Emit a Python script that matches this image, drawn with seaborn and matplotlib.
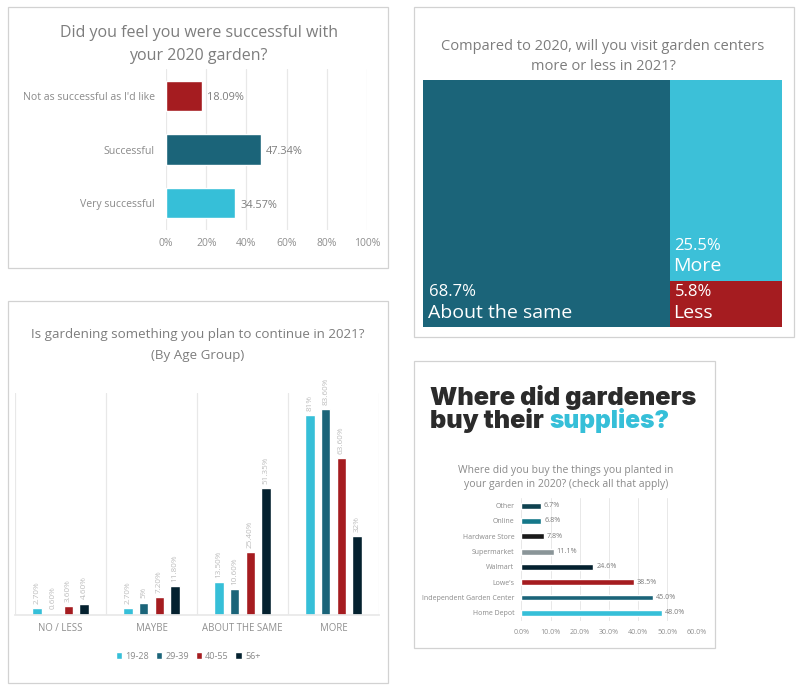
import matplotlib
matplotlib.use("Agg")
import matplotlib.pyplot as plt
from matplotlib.patches import Rectangle
from matplotlib.ticker import FuncFormatter
import pandas as pd
import seaborn as sns

CYAN, TEAL, RED, NAVY = "#36BFD8", "#1B6479", "#A51C20", "#04212F"
GREY, LIGHT, GRID, FRAME = "#7d7d7d", "#bdbdbd", "#e8e8e8", "#d2d2d2"

# Panel 1
success_cats = ["Not as successful as I'd like", "Successful", "Very successful"]
success_vals = [18.09, 47.34, 34.57]
success_cols = [RED, TEAL, CYAN]

# Panel 2
age_cats = ["NO / LESS", "MAYBE", "ABOUT THE SAME", "MORE"]
age_groups = ["19-28", "29-39", "40-55", "56+"]
age_19_28 = [2.7, 2.7, 13.5, 81]
age_29_39 = [0.6, 5, 10.6, 83.6]
age_40_55 = [3.6, 7.2, 25.4, 63.6]
age_56 = [4.6, 11.8, 51.35, 32]
age_labels = [["2.70%", "2.70%", "13.50%", "81%"],
              ["0.60%", "5%", "10.60%", "83.60%"],
              ["3.60%", "7.20%", "25.40%", "63.60%"],
              ["4.60%", "11.80%", "51.35%", "32%"]]
age_cols = [CYAN, TEAL, RED, NAVY]

# Panel 3 (treemap)
visit_names = ["About the same", "More", "Less"]
visit_vals = [68.7, 25.5, 5.8]
visit_cols = [TEAL, "#3CC0D8", "#A51C20"]

# Panel 4
store_cats = ["Other", "Online", "Hardware Store", "Supermarket", "Walmart",
              "Lowe's", "Independent Garden Center", "Home Depot"]
store_vals = [6.7, 6.8, 7.8, 11.1, 24.6, 38.5, 45.0, 48.0]
store_cols = ["#0F4250", "#15788A", "#1A1A1A", "#8A9598", NAVY, RED, TEAL, CYAN]

sns.set_theme(style="white")
plt.rcParams["font.family"] = ["Open Sans", "DejaVu Sans"]

W, H = 800, 689
fig = plt.figure(figsize=(W / 100, H / 100), dpi=100, facecolor="white")


def px_axes(x0, y0, x1, y1):
    return fig.add_axes([x0 / W, 1 - y1 / H, (x1 - x0) / W, (y1 - y0) / H])


def px_text(x, y, s, **kw):
    kw.setdefault("ha", "center")
    kw.setdefault("va", "center")
    kw.setdefault("color", GREY)
    return fig.text(x / W, 1 - y / H, s, **kw)


def frame(x0, y0, x1, y1):
    fig.add_artist(Rectangle((x0 / W, 1 - y1 / H), (x1 - x0) / W, (y1 - y0) / H,
                             transform=fig.transFigure, fill=False,
                             edgecolor=FRAME, linewidth=0.9))


frame(8, 7, 388, 268)
frame(8, 301, 388, 683)
frame(414, 7, 794, 337)
frame(414.5, 361, 714.5, 648)

# ---- Panel 1
px_text(198.5, 33, "Did you feel you were successful with", fontsize=11.5)
px_text(198.5, 56, "your 2020 garden?", fontsize=11.5)
ax = px_axes(166, 69, 367, 230)
df = pd.DataFrame({"cat": success_cats, "val": success_vals})
sns.barplot(df, y="cat", x="val", hue="cat", palette=success_cols, legend=False,
            width=0.57, saturation=1, ax=ax)
ax.set(xlim=(0, 100), xlabel="", ylabel="")
ax.set_xticks(range(0, 101, 20))
ax.xaxis.set_major_formatter(FuncFormatter(lambda v, _: f"{v:.0f}%"))
ax.grid(axis="x", color=GRID, lw=0.9)
ax.set_axisbelow(True)
sns.despine(ax=ax, left=True, bottom=True, top=True, right=True)
ax.tick_params(axis="x", length=0, labelsize=7.5, labelcolor="#8f8f8f", pad=6)
ax.tick_params(axis="y", length=0, labelsize=7.6, labelcolor="#8a8a8a", pad=8)
for i, v in enumerate(success_vals):
    ax.annotate(f"{v:.2f}%", (v, i), xytext=(5, -2), textcoords="offset pixels",
                ha="left", va="center", fontsize=7.9, color=GREY)

# ---- Panel 2
px_text(198, 334.5, "Is gardening something you plan to continue in 2021?", fontsize=9.6)
px_text(198, 355.5, "(By Age Group)", fontsize=9.6)
ax = px_axes(15, 393, 379, 615)
long = pd.DataFrame({
    "cat": age_cats * 4,
    "group": [g for g in age_groups for _ in age_cats],
    "val": age_19_28 + age_29_39 + age_40_55 + age_56,
})
sns.barplot(long, x="cat", y="val", hue="group", order=age_cats, hue_order=age_groups,
            palette=age_cols, width=0.688, gap=0.4, saturation=1, ax=ax)
ax.set(xlim=(-0.5, 3.5), ylim=(0, 90), xlabel="", ylabel="", yticks=[])
for sep in [-0.5, 0.5, 1.5, 2.5, 3.5]:
    ax.axvline(sep, color=GRID, lw=0.9, zorder=0)
sns.despine(ax=ax, left=True, top=True, right=True)
ax.spines["bottom"].set_color(GRID)
ax.tick_params(axis="x", length=0, labelsize=6.9, labelcolor="#8f8f8f", pad=5.5)
for cont, labs in zip(ax.containers, age_labels):
    ax.bar_label(cont, labels=labs, rotation=90, padding=3, fontsize=5.9, color=LIGHT)
leg = ax.legend(loc="center", bbox_to_anchor=(173 / 364, -0.185), ncol=4, frameon=False,
                fontsize=6.5, handlelength=0.7, handleheight=0.7, handletextpad=0.35,
                columnspacing=0.75, labelcolor="#8a8a8a", borderpad=0)

# ---- Panel 3: treemap
px_text(603, 46, "Compared to 2020, will you visit garden centers", fontsize=10.5)
px_text(603, 66, "more or less in 2021?", fontsize=10.5)
ax = px_axes(423.3, 80, 782, 327)
left_w = visit_vals[0]
right_w = visit_vals[1] + visit_vals[2]
ax.bar(0, right_w, width=left_w, align="edge", color=visit_cols[0], linewidth=0)
ax.bar(left_w, visit_vals[2], width=right_w, align="edge", color=visit_cols[2], linewidth=0)
ax.bar(left_w, visit_vals[1], width=right_w, bottom=visit_vals[2], align="edge",
       color=visit_cols[1], linewidth=0)
ax.set(xlim=(0, left_w + right_w), ylim=(0, right_w), xticks=[], yticks=[])
sns.despine(ax=ax, left=True, bottom=True, top=True, right=True)
for name, val, x, ytop, yname in [
    (visit_names[0], visit_vals[0], 427.5, 292.5, 312.5),
    (visit_names[1], visit_vals[1], 673.5, 245.5, 266),
    (visit_names[2], visit_vals[2], 673.5, 292.5, 312.5),
]:
    px_text(x + 1, ytop, f"{val}%", ha="left", color="white", fontsize=12)
    px_text(x, yname, name, ha="left", color="white", fontsize=14)

# ---- Panel 4
px_text(430, 397, "Where did gardeners", ha="left", color="#2b2b2b", fontsize=18.2,
        fontweight="black", family="Inter")
px_text(430, 420.5, "buy their", ha="left", color="#2b2b2b", fontsize=18.2,
        fontweight="black", family="Inter")
px_text(549, 420.5, "supplies?", ha="left", color=CYAN, fontsize=17.6,
        fontweight="black", family="Inter")
px_text(566, 470.5, "Where did you buy the things you planted in", fontsize=7.45, color="#8a8a8a")
px_text(566, 485, "your garden in 2020? (check all that apply)", fontsize=7.45, color="#8a8a8a")
ax = px_axes(521.3, 498, 696.7, 620.5)
df = pd.DataFrame({"cat": store_cats, "val": store_vals})
sns.barplot(df, y="cat", x="val", hue="cat", palette=store_cols, legend=False,
            width=0.38, saturation=1, ax=ax)
ax.set(xlim=(0, 60), xlabel="", ylabel="")
ax.set_xticks(range(0, 61, 10))
ax.xaxis.set_major_formatter(FuncFormatter(lambda v, _: f"{v:.1f}%"))
ax.grid(axis="x", color=GRID, lw=0.7)
ax.set_axisbelow(True)
sns.despine(ax=ax, left=True, bottom=True, top=True, right=True)
ax.tick_params(axis="x", length=0, labelsize=5.1, labelcolor="#8f8f8f", pad=6)
ax.tick_params(axis="y", length=0, labelsize=5.05, labelcolor="#8a8a8a", pad=5)
for i, v in enumerate(store_vals):
    ax.annotate(f"{v:.1f}%", (v, i), xytext=(3, 0), textcoords="offset pixels",
                ha="left", va="center", fontsize=5.2, color=GREY)

fig.savefig("out.png", dpi=100, facecolor="white")
